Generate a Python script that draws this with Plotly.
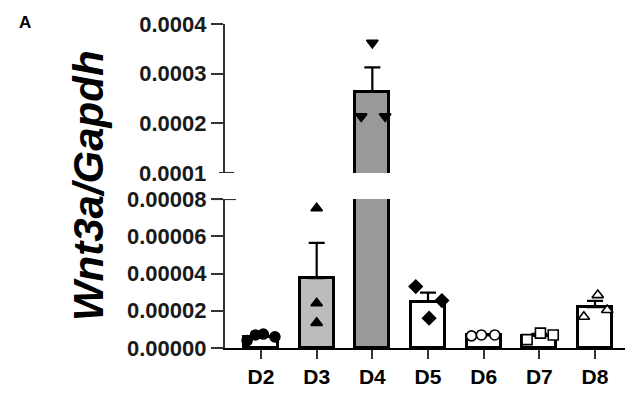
import plotly.graph_objects as go
import numpy as np

# Wnt3a expression relative to Gapdh across differentiation days
days = ["D2", "D3", "D4", "D5", "D6", "D7", "D8"]
d2_vals = [0.0000040, 0.0000070, 0.0000075, 0.0000060]
d3_vals = [0.0000750, 0.0000240, 0.0000135]
d4_vals = [0.000362, 0.000214, 0.000214]
d5_vals = [0.0000330, 0.0000160, 0.0000255]
d6_vals = [0.0000065, 0.0000070, 0.0000070]
d7_vals = [0.0000045, 0.0000080, 0.0000070]
d8_vals = [0.0000284, 0.0000168, 0.0000204]
replicates = [d2_vals, d3_vals, d4_vals, d5_vals, d6_vals, d7_vals, d8_vals]

bottom_ticks = [0.0, 0.00002, 0.00004, 0.00006, 0.00008]
top_ticks = [0.0001, 0.0002, 0.0003, 0.0004]

# styling per group
bar_fill = ["white", "#bcbcbc", "#999999", "white", "white", "white", "white"]
symbols = ["circle", "triangle-up", "triangle-down", "diamond", "circle", "square", "triangle-up"]
filled = [True, True, True, True, False, False, False]
jitter = [[-0.25, -0.1, 0.04, 0.25], [0, 0, 0], [0, -0.2, 0.23], [-0.22, 0.02, 0.25],
          [-0.22, -0.04, 0.2], [-0.22, 0.02, 0.25], [0.05, -0.2, 0.22]]

means = [float(np.mean(v)) for v in replicates]
sems = [float(np.std(v, ddof=1) / np.sqrt(len(v))) for v in replicates]
xpos = list(range(len(days)))

FONT = "Liberation Sans"
fig = go.Figure()

for xa, ya in (("x", "y"), ("x2", "y2")):
    fig.add_trace(go.Bar(
        x=xpos, y=means, xaxis=xa, yaxis=ya, width=0.61,
        marker=dict(color=bar_fill, line=dict(color="black", width=3)),
        error_y=dict(type="data", symmetric=False, array=sems,
                     arrayminus=[0] * len(sems), color="black", thickness=2.2, width=8),
        showlegend=False, hoverinfo="skip"))
    for i, vals in enumerate(replicates):
        fig.add_trace(go.Scatter(
            x=[i + j for j in jitter[i]], y=vals, xaxis=xa, yaxis=ya, mode="markers",
            marker=dict(symbol=symbols[i], size=10,
                        color="black" if filled[i] else "white",
                        line=dict(color="black", width=1.6)),
            showlegend=False, hoverinfo="skip", cliponaxis=True))

xr = [-0.647, 6.539]
ydom_bottom = [0.1212, 0.4975]
ydom_top = [0.5631, 0.9394]
tickfont = dict(family=FONT, size=22, color="#1a1a1a", weight="bold")

fig.update_layout(
    width=625, height=396, margin=dict(l=0, r=0, t=0, b=0),
    paper_bgcolor="white", plot_bgcolor="white", bargap=0,
    xaxis=dict(domain=[0.36, 1.0], range=xr, tickvals=xpos, ticktext=days,
               showline=True, linecolor="black", linewidth=2.2,
               ticks="outside", ticklen=9, tickwidth=2.2, tickcolor="#333",
               tickfont=dict(family=FONT, size=21, color="black", weight="bold"),
               showgrid=False, zeroline=False, anchor="y", automargin=False),
    yaxis=dict(domain=ydom_bottom, range=[0, 0.00008], tickvals=bottom_ticks,
               tickformat=".5f", showline=True, linecolor="#333", linewidth=2.2,
               ticks="outside", ticklen=12, tickwidth=2, tickcolor="#333",
               tickfont=tickfont, showgrid=False, zeroline=False,
               anchor="x", automargin=False),
    xaxis2=dict(domain=[0.36, 1.0], range=xr, visible=False, anchor="y2"),
    yaxis2=dict(domain=ydom_top, range=[0.0001, 0.0004], tickvals=top_ticks[1:],
                tickformat=".4f", showline=True, linecolor="#333", linewidth=2.2,
                ticks="outside", ticklen=12, tickwidth=2, tickcolor="#333",
                tickfont=tickfont, showgrid=False, zeroline=False,
                anchor="x2", automargin=False),
)

# axis-break end caps and the 0.0001 label sitting on the lower cap
fig.add_shape(type="line", xref="paper", yref="y2", x0=219 / 625, x1=234 / 625,
              y0=0.0001, y1=0.0001, line=dict(color="#333", width=2.2))
fig.add_shape(type="line", xref="paper", yref="y", x0=213 / 625, x1=236 / 625,
              y0=0.00008, y1=0.00008, line=dict(color="#333", width=2.2))
fig.add_annotation(x=208 / 625, y=0.0001, xref="paper", yref="y2", text="0.0001",
                   showarrow=False, xanchor="right", yanchor="middle",
                   font=tickfont)

fig.add_annotation(x=88 / 625, y=0.53, xref="paper", yref="paper",
                   text="<b><i>Wnt3a/Gapdh</i></b>", textangle=-90, showarrow=False,
                   xanchor="center", yanchor="middle",
                   font=dict(family=FONT, size=42, color="black"))
fig.add_annotation(x=25 / 625, y=(396 - 22) / 396, xref="paper", yref="paper",
                   text="<b>A</b>", showarrow=False, xanchor="center", yanchor="middle",
                   font=dict(family=FONT, size=17, color="black"))

fig.write_html("out.html")
